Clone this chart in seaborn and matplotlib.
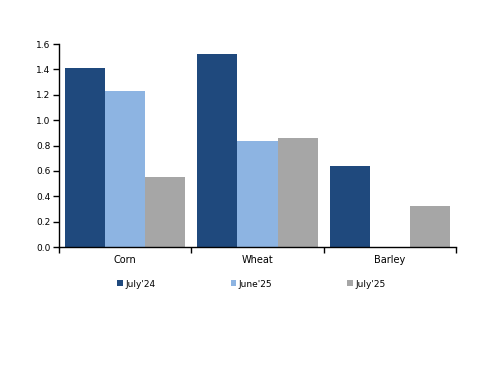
import numpy as np
import pandas as pd
import matplotlib
matplotlib.use('Agg')
import matplotlib.pyplot as plt
import seaborn as sns

crops = ['Corn', 'Wheat', 'Barley']
series = ["July'24", "June'25", "July'25"]
july24 = [1.41, 1.52, 0.64]
june25 = [1.23, 0.835, 0.0]
july25 = [0.55, 0.86, 0.32]
colors = ['#1F497D', '#8DB4E2', '#A6A6A6']

df = pd.DataFrame({
    'crop': crops * 3,
    'series': [series[0]] * 3 + [series[1]] * 3 + [series[2]] * 3,
    'value': july24 + june25 + july25,
})

sns.set_style('white')
plt.rcParams['font.family'] = ['DejaVu Sans']
plt.rcParams['text.color'] = 'black'
plt.rcParams['xtick.color'] = 'black'
plt.rcParams['ytick.color'] = 'black'

fig = plt.figure(figsize=(5, 3.86), dpi=100)
ax = fig.add_axes([0.118, 0.36, 0.794, 0.526])
sns.barplot(data=df, x='crop', y='value', hue='series', palette=colors,
            saturation=1, width=0.91, gap=0, linewidth=0, ax=ax, legend=True)

ax.set_xlim(-0.5, 2.5)
ax.set_ylim(0, 1.6)
ax.set_yticks(np.arange(0, 1.61, 0.2))
ax.set_yticklabels([f'{v:.1f}' for v in np.arange(0, 1.61, 0.2)], fontsize=6.5)
ax.set_xticks([0, 1, 2])
ax.set_xticklabels(crops, fontsize=7)
ax.set_xticks([-0.5, 0.5, 1.5, 2.5], minor=True)
ax.tick_params(axis='x', which='major', bottom=False, length=0, pad=6)
ax.tick_params(axis='x', which='minor', bottom=True, length=4, width=1,
               direction='out', color='black')
ax.tick_params(axis='y', left=True, length=4, width=1, direction='out',
               color='black', pad=2)
ax.set_xlabel('')
ax.set_ylabel('')
for s in ['top', 'right']:
    ax.spines[s].set_visible(False)
for s in ['left', 'bottom']:
    ax.spines[s].set_color('black')
    ax.spines[s].set_linewidth(1)

handles, labels = ax.get_legend_handles_labels()
ax.legend(handles, labels, loc='upper center', bbox_to_anchor=(0.485, -0.12),
          ncol=3, frameon=False, fontsize=6.5, handlelength=0.6, handleheight=0.6,
          handletextpad=0.3, columnspacing=8.3)

fig.savefig('out.png', dpi=100)
